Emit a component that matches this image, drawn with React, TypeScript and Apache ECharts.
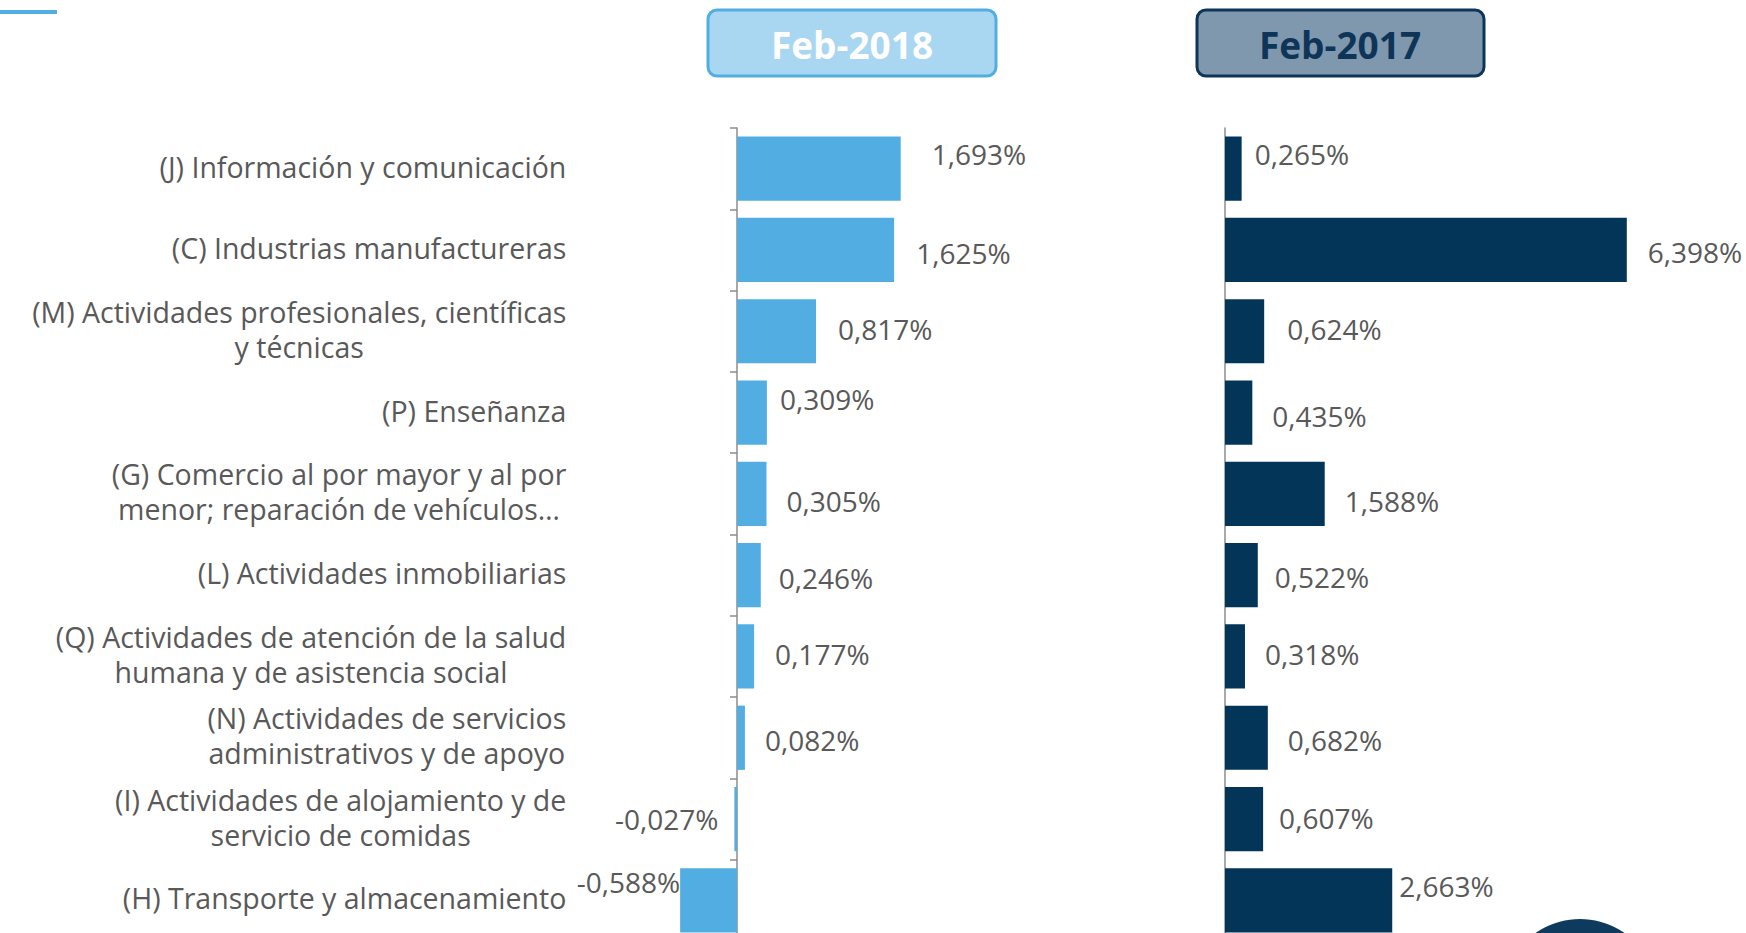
import React, { useEffect, useRef } from "react";
import * as echarts from "echarts";

const categories = [
  "(J) Información y comunicación",
  "(C) Industrias manufactureras",
  "(M) Actividades profesionales, científicas\ny técnicas",
  "(P) Enseñanza",
  "(G) Comercio al por mayor y al por\nmenor; reparación de vehículos…",
  "(L) Actividades inmobiliarias",
  "(Q) Actividades de atención de la salud\nhumana y de asistencia social",
  "(N) Actividades de servicios\nadministrativos y de apoyo",
  "(I) Actividades de alojamiento y de\nservicio de comidas",
  "(H) Transporte y almacenamiento",
];

const feb2018 = [1.693, 1.625, 0.817, 0.309, 0.305, 0.246, 0.177, 0.082, -0.027, -0.588];
const feb2017 = [0.265, 6.398, 0.624, 0.435, 1.588, 0.522, 0.318, 0.682, 0.607, 2.663];

const titles = ["Feb-2018", "Feb-2017"];

// label nudges (layout only)
const nudge2018 = [[11, -15], [2, 3], [2, -2], [-7, -14], [0, 7], [-2, 3], [1, -2], [0, 2], [4, 0], [20, -18]];
const nudge2017 = [[-7, -15], [1, 2], [3, -2], [0, 3], [0, 7], [-3, 2], [0, -2], [0, 2], [-4, -1], [-13, -14]];

const LIGHT = "#52AEE2";
const DARK = "#033559";
const TXT = "#595959";
const AXIS = "#8C8C8C";
const FONT = "'Open Sans', sans-serif";

const fmt = (v: number) => v.toFixed(3).replace(".", ",") + "%";

const buildData = (vals: number[], nudges: number[][]) =>
  vals.map((v, i) => ({
    value: v,
    label: {
      position: v < 0 ? "left" : "right",
      offset: nudges[i],
    },
  }));

export default function App() {
  const ref = useRef<HTMLDivElement>(null);
  useEffect(() => {
    if (!ref.current) return;
    const chart = echarts.init(ref.current, null, { renderer: "svg" });
    const labelStyle = {
      show: true,
      distance: 20,
      color: TXT,
      fontSize: 28,
      fontFamily: FONT,
      formatter: (p: any) => fmt(p.value),
    };
    const option: any = {
      animation: false,
      backgroundColor: "#ffffff",
      grid: [
        { left: 640.3, width: 290.1, top: 128, height: 813 },
        { left: 1225, width: 502.4, top: 128, height: 813 },
      ],
      xAxis: [
        { type: "value", gridIndex: 0, min: -1, max: 2, show: false },
        { type: "value", gridIndex: 1, min: 0, max: 8, show: false },
      ],
      yAxis: [
        {
          type: "category",
          gridIndex: 0,
          data: categories,
          inverse: true,
          position: "left",
          axisLine: { show: false, onZero: false },
          axisTick: { show: false },
          splitLine: { show: false },
          axisLabel: {
            interval: 0,
            margin: 74,
            align: "right",
            formatter: (v: string) =>
              v
                .split("\n")
                .map((l) => `{c|${l}}`)
                .join("\n"),
            rich: {
              c: {
                align: "center",
                fontSize: 28.5,
                lineHeight: 35,
                padding: [0, 0, 4, 0],
                color: TXT,
                fontFamily: FONT,
              },
            },
          },
        },
        {
          type: "category",
          gridIndex: 0,
          data: categories,
          inverse: true,
          position: "left",
          axisLine: { show: true, onZero: true, lineStyle: { color: AXIS, width: 1.5 } },
          axisTick: { show: true, length: 7, lineStyle: { color: AXIS, width: 1.5 } },
          axisLabel: { show: false },
          splitLine: { show: false },
        },
        {
          type: "category",
          gridIndex: 1,
          data: categories,
          inverse: true,
          axisLine: { show: true, lineStyle: { color: AXIS, width: 1.5 } },
          axisTick: { show: false },
          axisLabel: { show: false },
          splitLine: { show: false },
        },
      ],
      series: [
        {
          name: titles[0],
          type: "bar",
          xAxisIndex: 0,
          yAxisIndex: 1,
          barCategoryGap: "21%",
          itemStyle: { color: LIGHT },
          label: labelStyle,
          data: buildData(feb2018, nudge2018),
        },
        {
          name: titles[1],
          type: "bar",
          xAxisIndex: 1,
          yAxisIndex: 2,
          barCategoryGap: "21%",
          itemStyle: { color: DARK },
          label: labelStyle,
          data: buildData(feb2017, nudge2017),
        },
      ],
      graphic: [
        {
          type: "rect",
          left: 0,
          top: 10,
          shape: { width: 57, height: 4 },
          style: { fill: LIGHT },
        },
        {
          type: "rect",
          shape: { x: 708, y: 10, width: 288, height: 66, r: 9 },
          style: { fill: "#A9D6F0", stroke: LIGHT, lineWidth: 3 },
        },
        {
          type: "text",
          x: 852,
          y: 44,
          style: {
            text: titles[0],
            fill: "#ffffff",
            font: `bold 37px ${FONT}`,
            textAlign: "center",
            textVerticalAlign: "middle",
          },
        },
        {
          type: "rect",
          shape: { x: 1197, y: 10, width: 287, height: 66, r: 9 },
          style: { fill: "#7F98AE", stroke: "#0E3558", lineWidth: 3 },
        },
        {
          type: "text",
          x: 1340,
          y: 44,
          style: {
            text: titles[1],
            fill: "#0E3558",
            font: `bold 37px ${FONT}`,
            textAlign: "center",
            textVerticalAlign: "middle",
          },
        },
        {
          type: "circle",
          shape: { cx: 1580, cy: 997, r: 78 },
          style: { fill: "#0E3A5E" },
        },
      ],
    };
    chart.setOption(option);
    return () => chart.dispose();
  }, []);
  return (
    <div
      ref={ref}
      style={{ position: "fixed", left: 0, top: 0, width: 1746, height: 960, background: "#fff" }}
    />
  );
}
